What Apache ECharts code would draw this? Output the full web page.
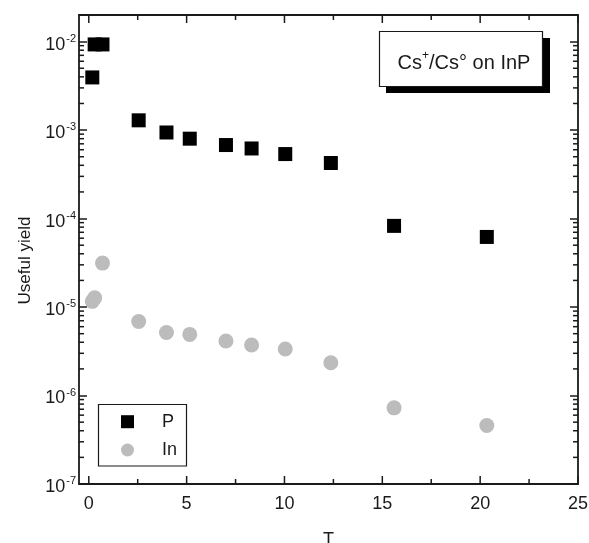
<!DOCTYPE html>
<html>
<head>
<meta charset="utf-8">
<script src="https://cdn.jsdelivr.net/npm/echarts@6/dist/echarts.min.js"></script>
<style>
  html, body { margin: 0; padding: 0; background: #fff; }
  #chart { width: 589px; height: 543px; }
</style>
</head>
<body>
<div id="chart"></div>
<script>
// Exposure T (shared by both species)
const T = [0.18, 0.3, 0.7, 2.55, 3.97, 5.16, 7.01, 8.32, 10.04, 12.37, 15.6, 20.34];
// Useful yield of P
const yieldP = [3.94e-3, 9.3e-3, 9.3e-3, 1.29e-3, 9.4e-4, 8.0e-4, 6.78e-4, 6.2e-4, 5.36e-4, 4.25e-4, 8.27e-5, 6.2e-5];
// Useful yield of In
const yieldIn = [1.16e-5, 1.27e-5, 3.14e-5, 6.87e-6, 5.16e-6, 4.91e-6, 4.13e-6, 3.72e-6, 3.36e-6, 2.35e-6, 7.26e-7, 4.58e-7];

// Axis ranges and tick labels
const xMin = -0.5, xMax = 25;
const yMin = 1e-7, yMax = 0.02;
const xTickLabels = ['0', '5', '10', '15', '20', '25'];
const yTickExponents = ['-7', '-6', '-5', '-4', '-3', '-2'];
// Tick positions drawn on the frame
const xMajorTicks = [0, 5, 10, 15, 20, 25];
const xMinorTicks = [2.5, 7.5, 12.5, 17.5, 22.5];
const yMinorTicks = [];
for (let d = -7; d <= -2; d++) {
  for (let k = 2; k <= 9; k++) {
    const v = k * Math.pow(10, d);
    if (v < yMax) yMinorTicks.push(v);
  }
}

const FONT = '"Liberation Sans", Arial, sans-serif';
const INK = '#1a1a1a';

const chart = echarts.init(document.getElementById('chart'), null, { renderer: 'canvas' });

// Inward tick marks on both opposite sides of the frame
function frameTickRenderer(dir, len) {
  return function (params, api) {
    const cs = params.coordSys;
    const style = { stroke: INK, lineWidth: 1.5 };
    if (dir === 'y') {
      const p = api.coord([xMin, api.value(1)]);
      return { type: 'group', children: [
        { type: 'line', shape: { x1: cs.x, y1: p[1], x2: cs.x + len, y2: p[1] }, style },
        { type: 'line', shape: { x1: cs.x + cs.width - len, y1: p[1], x2: cs.x + cs.width, y2: p[1] }, style }
      ]};
    }
    const p = api.coord([api.value(0), yMin]);
    return { type: 'group', children: [
      { type: 'line', shape: { x1: p[0], y1: cs.y + cs.height, x2: p[0], y2: cs.y + cs.height - len }, style },
      { type: 'line', shape: { x1: p[0], y1: cs.y, x2: p[0], y2: cs.y + len }, style }
    ]};
  };
}

const axisLineStyle = { show: true, onZero: false, lineStyle: { color: INK, width: 1.8 } };
const majorTick = { show: true, inside: true, length: 8, lineStyle: { color: INK, width: 1.5 } };

function xLabel(v) {
  const s = String(Math.round(v * 100) / 100);
  return xTickLabels.indexOf(s) >= 0 ? s : '';
}
function yLabel(v) {
  const e = Math.round(Math.log10(v));
  if (Math.abs(Math.log10(v) - e) > 1e-6) return '';
  const s = String(e);
  return yTickExponents.indexOf(s) >= 0 ? '{b|10}{s|' + s + '}' : '';
}

const option = {
  animation: false,
  backgroundColor: '#fff',
  grid: { left: 79, right: 11, top: 15, bottom: 59, containLabel: false, outerBoundsMode: 'none' },
  xAxis: [
    {
      type: 'value', min: xMin, max: xMax, interval: 0.5,
      name: 'T', nameLocation: 'middle', nameGap: 47,
      nameTextStyle: { fontFamily: FONT, fontSize: 18, color: INK },
      axisLine: axisLineStyle, axisTick: { show: false },
      axisLabel: { formatter: xLabel, fontFamily: FONT, fontSize: 18, color: INK, margin: 11, showMinLabel: false },
      splitLine: { show: false }
    },
    {
      type: 'value', position: 'top', min: xMin, max: xMax, interval: 0.5,
      axisLine: axisLineStyle, axisTick: { show: false },
      axisLabel: { show: false }, splitLine: { show: false }
    }
  ],
  yAxis: [
    {
      type: 'log', logBase: 10, min: yMin, max: yMax,
      name: 'Useful yield', nameLocation: 'middle', nameGap: 45,
      nameTextStyle: { fontFamily: FONT, fontSize: 17, color: INK, padding: [0, 22, 0, 0] },
      axisLine: axisLineStyle, axisTick: majorTick,
      axisLabel: {
        formatter: yLabel, margin: 3, color: INK,
        rich: {
          b: { fontFamily: FONT, fontSize: 18, color: INK, padding: [6, 0, 0, 0] },
          s: { fontFamily: FONT, fontSize: 11, color: INK, padding: [0, 0, 6, 1] }
        }
      },
      splitLine: { show: false }
    },
    {
      type: 'log', logBase: 10, min: yMin, max: yMax, position: 'right',
      axisLine: axisLineStyle, axisTick: majorTick,
      axisLabel: { show: false }, splitLine: { show: false }
    }
  ],
  legend: {
    data: [
      { name: 'P', icon: 'rect' },
      { name: 'In', icon: 'circle' }
    ],
    orient: 'vertical', left: 121, top: 411.7, padding: 0,
    itemWidth: 13, itemHeight: 13, itemGap: 8.3,
    textStyle: { fontFamily: FONT, fontSize: 18, color: INK, lineHeight: 20, padding: [0, 0, 0, 23] },
    selectedMode: false
  },
  graphic: [
    // legend frame
    { type: 'rect', z: -1, shape: { x: 98.5, y: 404.5, width: 88, height: 61.5 },
      style: { fill: '#fff', stroke: INK, lineWidth: 1.2 } },
    // caption box with drop shadow
    { type: 'rect', z: 10, shape: { x: 386, y: 38, width: 164, height: 55 }, style: { fill: '#000' } },
    { type: 'rect', z: 11, shape: { x: 379.5, y: 31.5, width: 163, height: 55 },
      style: { fill: '#fff', stroke: INK, lineWidth: 1.2 } },
    { type: 'text', z: 12, x: 464, y: 60,
      style: {
        text: '{n|Cs}{s|+}{n|/Cs° on InP}',
        align: 'center', verticalAlign: 'middle',
        rich: {
          n: { fontFamily: FONT, fontSize: 20, fill: INK, padding: [6, 0, 0, 0] },
          s: { fontFamily: FONT, fontSize: 12, fill: INK, padding: [0, 0, 8, 0] }
        }
      } }
  ],
  series: [
    {
      name: 'P', type: 'scatter', symbol: 'rect', symbolSize: 14,
      itemStyle: { color: '#000', opacity: 1 },
      data: T.map((t, i) => [t, yieldP[i]]), z: 5
    },
    {
      name: 'In', type: 'scatter', symbol: 'circle', symbolSize: 15,
      itemStyle: { color: '#bcbcbc', opacity: 1 },
      data: T.map((t, i) => [t, yieldIn[i]]), z: 4
    },
    {
      type: 'custom', silent: true, clip: false, z: 3,
      renderItem: frameTickRenderer('y', 5),
      data: yMinorTicks.map(v => [xMin, v])
    },
    {
      type: 'custom', silent: true, clip: false, z: 3,
      renderItem: frameTickRenderer('x', 5),
      data: xMinorTicks.map(v => [v, yMin])
    },
    {
      type: 'custom', silent: true, clip: false, z: 3,
      renderItem: frameTickRenderer('x', 8),
      data: xMajorTicks.map(v => [v, yMin])
    }
  ]
};

chart.setOption(option);
</script>
</body>
</html>
